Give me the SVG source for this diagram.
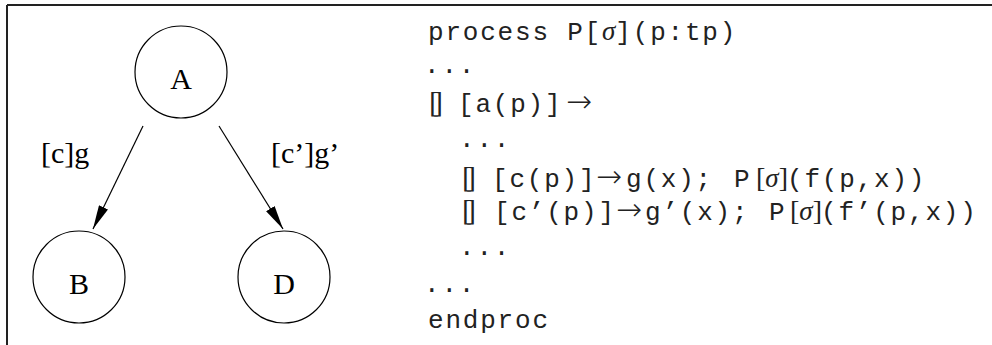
<svg xmlns="http://www.w3.org/2000/svg" width="992" height="345" viewBox="0 0 992 345">
<style>
.node{fill:none;stroke:#000;stroke-width:1.2}
.lbl{font-family:"Liberation Serif","Times New Roman",serif;font-size:30px;fill:#000}
.edge{stroke:#000;stroke-width:1.2;fill:none}
.mono{font-family:"Liberation Mono","Courier New",monospace;font-size:26px;letter-spacing:1.8px;fill:#222}
.rm{font-family:"Liberation Serif","Times New Roman",serif;font-size:28px;fill:#222}
.arr{font-family:"DejaVu Sans",sans-serif;font-weight:200;font-size:31px;fill:#222}
.box{font-family:"Liberation Serif","Times New Roman",serif;font-size:30px;letter-spacing:-6px;fill:#222}
.it{font-family:"Liberation Serif","Times New Roman",serif;font-style:italic;font-size:27px;letter-spacing:0;fill:#222}
</style>
<defs>
<marker id="ah" viewBox="0 0 24 10" refX="24" refY="5" markerWidth="24" markerHeight="10" markerUnits="userSpaceOnUse" orient="auto">
<path d="M0,0 L24,5 L0,10 Z" fill="#000"/>
</marker>
</defs>
<rect width="992" height="345" fill="#fff"/>
<g id="frame" stroke="#222" stroke-width="2" fill="none">
<line x1="7" y1="5" x2="992" y2="5"/>
<line x1="7" y1="5" x2="7" y2="345"/>
</g>
<g id="connectors">
<line class="edge" x1="143" y1="126" x2="93" y2="229" marker-end="url(#ah)"/>
<line class="edge" x1="219" y1="126" x2="283" y2="229" marker-end="url(#ah)"/>
<text class="lbl" x="41" y="163">[c]g</text>
<text class="lbl" x="271" y="163">[c’]g’</text>
</g>
<g id="nodeA">
<circle class="node" cx="181" cy="72" r="46"/>
<text class="lbl" x="181" y="89" text-anchor="middle">A</text>
</g>
<g id="nodeB">
<circle class="node" cx="79" cy="277" r="46"/>
<text class="lbl" x="79" y="294" text-anchor="middle">B</text>
</g>
<g id="nodeD">
<circle class="node" cx="284" cy="277" r="46"/>
<text class="lbl" x="284" y="294" text-anchor="middle">D</text>
</g>
<g id="code">
<text class="mono" x="428" y="40">process P[<tspan class="it">σ</tspan>](p:tp)</text>

<text class="mono" x="424" y="73">...</text>

<text class="box" x="429" y="112">[]</text>
<text class="mono" x="458" y="112">[a(p)]</text>
<text class="arr" x="566" y="112">→</text>

<text class="mono" x="459" y="147">...</text>

<text class="box" x="462" y="187">[]</text>
<text class="mono" x="492" y="187">[c(p)]</text>
<text class="arr" x="596" y="187">→</text>
<text class="mono" x="626" y="187">g(x);</text>
<text class="mono" x="734" y="187">P</text>
<text class="rm" x="756" y="187">[<tspan class="it">σ</tspan>]</text>
<text class="mono" x="787" y="187">(f(p,x))</text>

<text class="box" x="462" y="220">[]</text>
<text class="mono" x="494" y="220">[c’(p)]</text>
<text class="arr" x="616" y="220">→</text>
<text class="mono" x="645" y="220">g’(x);</text>
<text class="mono" x="769" y="220">P</text>
<text class="rm" x="790" y="220">[<tspan class="it">σ</tspan>]</text>
<text class="mono" x="821" y="220">(f’(p,x))</text>

<text class="mono" x="459" y="255">...</text>
<text class="mono" x="424" y="292">...</text>
<text class="mono" x="428" y="328">endproc</text>
</g>
</svg>
